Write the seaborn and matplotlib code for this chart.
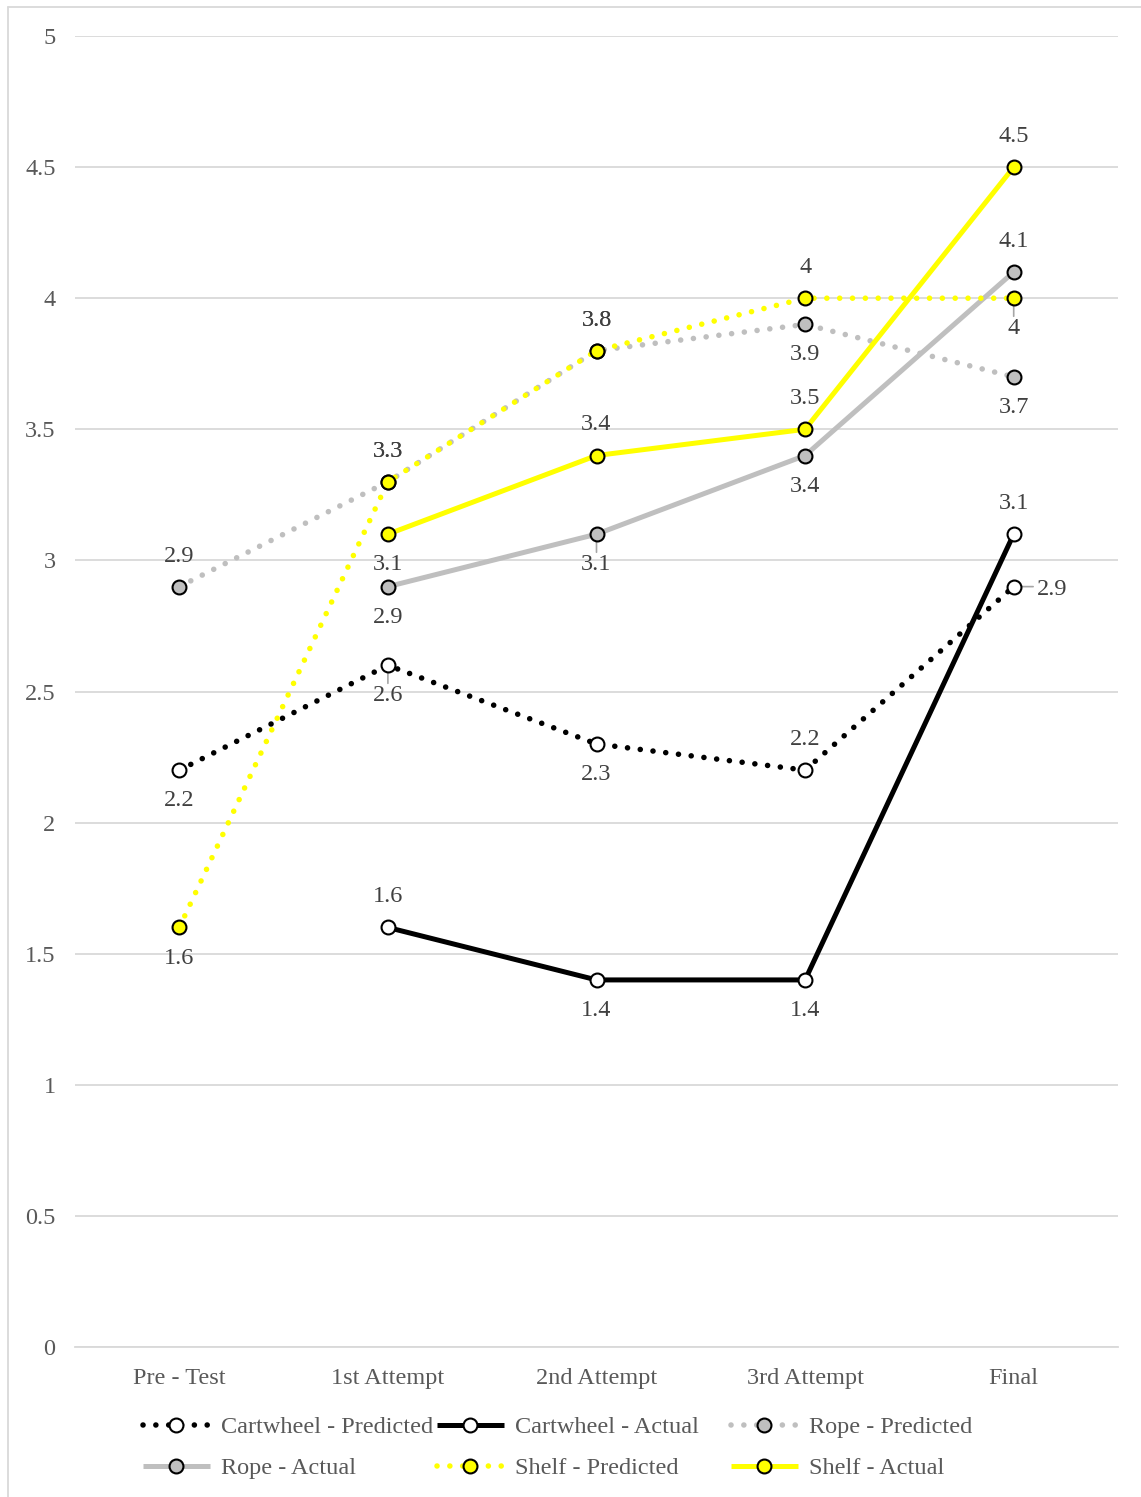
import numpy as np
import pandas as pd
import matplotlib
matplotlib.use("Agg")
import matplotlib.pyplot as plt
from matplotlib.lines import Line2D
import seaborn as sns

categories = ["Pre - Test", "1st Attempt", "2nd Attempt", "3rd Attempt", "Final"]
cartwheel_pred = [2.2, 2.6, 2.3, 2.2, 2.9]
cartwheel_act = [np.nan, 1.6, 1.4, 1.4, 3.1]
rope_pred = [2.9, 3.3, 3.8, 3.9, 3.7]
rope_act = [np.nan, 2.9, 3.1, 3.4, 4.1]
shelf_pred = [1.6, 3.3, 3.8, 4.0, 4.0]
shelf_act = [np.nan, 3.1, 3.4, 3.5, 4.5]

series_names = ["Cartwheel - Predicted", "Cartwheel - Actual", "Rope - Predicted",
                "Rope - Actual", "Shelf - Predicted", "Shelf - Actual"]
series_values = [cartwheel_pred, cartwheel_act, rope_pred, rope_act, shelf_pred, shelf_act]
line_colors = ["#000000", "#000000", "#bfbfbf", "#bfbfbf", "#ffff00", "#ffff00"]
marker_faces = ["#ffffff", "#ffffff", "#bfbfbf", "#bfbfbf", "#ffff00", "#ffff00"]
dotted = [True, False, True, False, True, False]
# label positions: a=above, b=below, r=right
label_pos = [
    ["b", "b", "b", "a", "r"],
    [None, "a", "b", "b", "a"],
    ["a", "a", "a", "b", "b"],
    [None, "b", "b", "b", "a"],
    ["b", "a", "a", "a", "b"],
    [None, "b", "a", "a", "a"],
]
# labels that carry a small leader line (series index, category index)
leaders = [(0, 1), (0, 4), (3, 2), (4, 4)]

sns.set_theme(style="white")
plt.rcParams["font.family"] = ["Liberation Serif", "DejaVu Serif"]
FS = 17.5

fig = plt.figure(figsize=(11.41, 14.97), dpi=100)
ax = fig.add_axes([75 / 1141, 1 - 1347 / 1497, (1118 - 75) / 1141, (1347 - 36) / 1497])

x = np.arange(len(categories))
df = pd.DataFrame({"x": x})
for name, vals in zip(series_names, series_values):
    df[name] = vals


def style(i):
    if dotted[i]:
        return (0, (0.01, 2.3)), 4.0
    return "-", 3.6


handles = []
for i, name in enumerate(series_names):
    ls, lw = style(i)
    sns.lineplot(data=df, x="x", y=name, ax=ax, color=line_colors[i], linewidth=lw,
                 linestyle=ls, marker="o", markersize=10, markerfacecolor=marker_faces[i],
                 markeredgecolor="#000000", markeredgewidth=1.5, zorder=3 + i,
                 dash_capstyle="round", solid_capstyle="butt")
    handles.append(Line2D([], [], color=line_colors[i], linewidth=lw, linestyle=ls,
                          marker="o", markersize=10, markerfacecolor=marker_faces[i],
                          markeredgecolor="#000000", markeredgewidth=1.5,
                          dash_capstyle="round", solid_capstyle="butt"))

# data labels
for i, vals in enumerate(series_values):
    for j, v in enumerate(vals):
        pos = label_pos[i][j]
        if pos is None or np.isnan(v):
            continue
        txt = f"{v:g}"
        if pos == "a":
            xy_off, ha, va = (0, 22), "center", "center"
        elif pos == "b":
            xy_off, ha, va = (0, -22), "center", "center"
        else:
            xy_off, ha, va = (17, -2), "left", "center"
        ax.annotate(txt, (x[j], v), xytext=xy_off, textcoords="offset points",
                    ha=ha, va=va, fontsize=FS, color="#404040", zorder=20)
        if (i, j) in leaders:
            if pos == "r":
                ax.annotate("", (x[j], v), xytext=(14, 0), textcoords="offset points",
                            arrowprops=dict(arrowstyle="-", color="#a6a6a6", lw=1.2,
                                            shrinkA=0, shrinkB=5.5), zorder=2)
            else:
                ax.annotate("", (x[j], v), xytext=(0, -13), textcoords="offset points",
                            arrowprops=dict(arrowstyle="-", color="#a6a6a6", lw=1.2,
                                            shrinkA=0, shrinkB=0), zorder=2)

ax.set_xlim(-0.5, len(categories) - 0.5)
ax.set_ylim(0, 5)
ax.set_yticks(np.arange(0, 5.01, 0.5))
ax.set_yticklabels([f"{t:g}" for t in np.arange(0, 5.01, 0.5)])
ax.set_xticks(x)
ax.set_xticklabels(categories)
ax.set_xlabel("")
ax.set_ylabel("")
ax.tick_params(axis="both", length=0, labelsize=FS, labelcolor="#595959")
ax.tick_params(axis="x", pad=15)
ax.tick_params(axis="y", pad=14)
ax.grid(axis="y", color="#d9d9d9", linewidth=1.3)
ax.grid(axis="x", visible=False)
for s in ["top", "right", "left"]:
    ax.spines[s].set_visible(False)
ax.spines["bottom"].set_color("#d9d9d9")
ax.spines["bottom"].set_linewidth(1.3)
ax.set_axisbelow(True)

# legend: three columns of two rows, equally spaced like the reference
col_x = [143, 437, 731]
col_members = [[0, 3], [1, 4], [2, 5]]
for cx, members in zip(col_x, col_members):
    leg = fig.legend([handles[k] for k in members], [series_names[k] for k in members],
                     loc="upper left", bbox_to_anchor=(cx / 1141, 1 - 1416 / 1497),
                     ncol=1, frameon=False, fontsize=FS, handlelength=2.75,
                     handletextpad=0.45, labelspacing=0.8,
                     borderpad=0, borderaxespad=0)
    for t in leg.get_texts():
        t.set_color("#595959")

# partial outer border (top and left)
fig.add_artist(Line2D([8 / 1141, 8 / 1141], [0, 1 - 7 / 1497], transform=fig.transFigure,
                      color="#d9d9d9", linewidth=1.3))
fig.add_artist(Line2D([8 / 1141, 1], [1 - 7 / 1497, 1 - 7 / 1497], transform=fig.transFigure,
                      color="#d9d9d9", linewidth=1.3))

fig.savefig("out.png", dpi=100, facecolor="white")
